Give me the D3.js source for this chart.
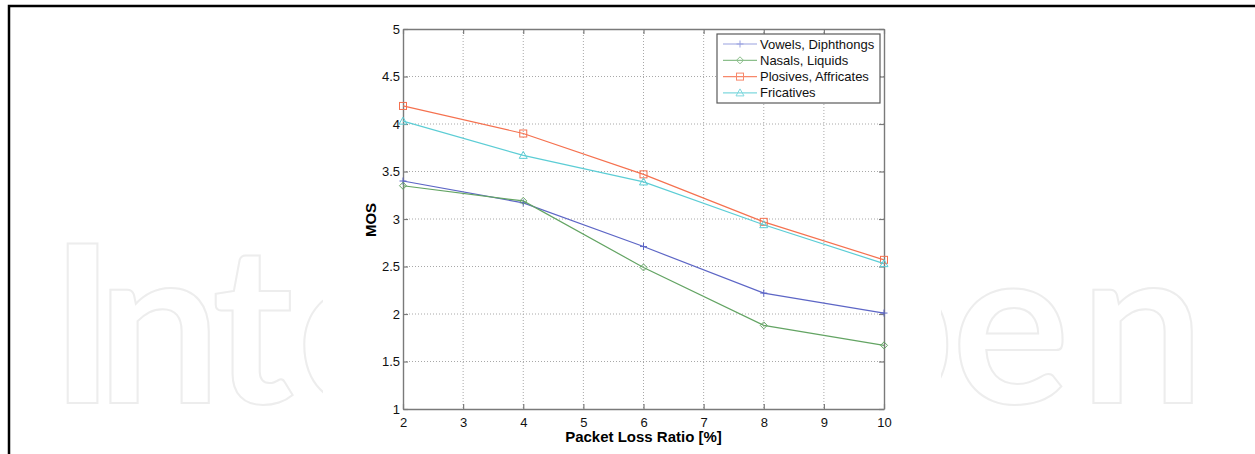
<!DOCTYPE html>
<html>
<head>
<meta charset="utf-8">
<script src="https://cdn.jsdelivr.net/npm/d3@7"></script>
<style>
  body { margin: 0; background: #fff; }
  svg { display: block; font-family: Arial, "Liberation Sans", sans-serif; }
</style>
</head>
<body>
<svg id="chart" width="1255" height="454"></svg>
<script>
// packet loss ratio values on x
const lossRatio = [2, 4, 6, 8, 10];
const xTicks = [2, 3, 4, 5, 6, 7, 8, 9, 10];
const yTicks = [1, 1.5, 2, 2.5, 3, 3.5, 4, 4.5, 5];

// MOS
const vowels = [3.40, 3.17, 2.71, 2.22, 2.01];
const nasals = [3.35, 3.19, 2.49, 1.88, 1.67];
const plosives = [4.19, 3.90, 3.47, 2.97, 2.57];
const fricatives = [4.03, 3.67, 3.39, 2.94, 2.53];

const seriesNames = ["Vowels, Diphthongs", "Nasals, Liquids", "Plosives, Affricates", "Fricatives"];

const series = [
  { name: seriesNames[0], values: vowels, color: "#5d66c6", legend: "#9aa2e0", marker: "plus" },
  { name: seriesNames[1], values: nasals, color: "#63a463", legend: "#8cbf8c", marker: "diamond" },
  { name: seriesNames[2], values: plosives, color: "#f5714f", legend: "#f7886b", marker: "square" },
  { name: seriesNames[3], values: fricatives, color: "#5ccdd5", legend: "#7fd8de", marker: "triangle" }
];

const svg = d3.select("#chart");

// faint watermark behind the figure (only the letters that show past the figure)
const markLetters = ["I", "n", "t", "e", "p", "e", "n"];
const markX = [50, 97, 212, 297, 830, 952, 1080];
svg.append("g")
  .selectAll("text")
  .data(markLetters)
  .enter().append("text")
  .attr("x", (d, i) => markX[i])
  .attr("y", 403)
  .style("font-family", "Lato, 'Open Sans', sans-serif")
  .style("font-weight", "bold")
  .style("font-size", "220px")
  .style("fill", "none")
  .style("stroke", "#ededed")
  .style("stroke-width", 2)
  .text(d => d);

// white figure background covers the middle of the watermark
svg.append("rect")
  .attr("x", 323).attr("y", 12)
  .attr("width", 618).attr("height", 442)
  .style("fill", "#fff");

// page frame (top and left)
svg.append("path")
  .attr("d", "M9,454 V6 H1255")
  .style("fill", "none")
  .style("stroke", "#000")
  .style("stroke-width", 2.5);

// dimensions of the plot box
const plotLeft = 403, plotRight = 884, plotTop = 29, plotBottom = 409;

const x = d3.scaleLinear().domain([2, 10]).range([plotLeft, plotRight]);
const y = d3.scaleLinear().domain([1, 5]).range([plotBottom, plotTop]);

// grid
const grid = svg.append("g");
grid.selectAll(".gx")
  .data(xTicks.slice(1, -1))
  .enter().append("line")
  .attr("x1", d => x(d)).attr("x2", d => x(d))
  .attr("y1", plotTop).attr("y2", plotBottom)
  .style("stroke", "#a8a8a8")
  .style("stroke-dasharray", "1,2");
grid.selectAll(".gy")
  .data(yTicks.slice(1, -1))
  .enter().append("line")
  .attr("x1", plotLeft).attr("x2", plotRight)
  .attr("y1", d => y(d)).attr("y2", d => y(d))
  .style("stroke", "#a8a8a8")
  .style("stroke-dasharray", "1,2");

// axes, ticks pointing inward, on all four sides
const axisColor = "#7a7a7a";
const fmt = d => String(d);
const gxB = svg.append("g").attr("transform", `translate(0,${plotBottom})`)
  .call(d3.axisBottom(x).tickValues(xTicks).tickFormat(fmt).tickSizeInner(-5).tickSizeOuter(0).tickPadding(8));
const gxT = svg.append("g").attr("transform", `translate(0,${plotTop})`)
  .call(d3.axisTop(x).tickValues(xTicks).tickSizeInner(-5).tickSizeOuter(0).tickFormat(""));
const gyL = svg.append("g").attr("transform", `translate(${plotLeft},0)`)
  .call(d3.axisLeft(y).tickValues(yTicks).tickFormat(fmt).tickSizeInner(-5).tickSizeOuter(0).tickPadding(8));
const gyR = svg.append("g").attr("transform", `translate(${plotRight},0)`)
  .call(d3.axisRight(y).tickValues(yTicks).tickSizeInner(-5).tickSizeOuter(0).tickFormat(""));

[gxB, gxT, gyL, gyR].forEach(g => {
  g.select(".domain").style("stroke", axisColor).style("stroke-width", 1.4);
  g.selectAll(".tick line").style("stroke", axisColor).style("stroke-width", 1.2);
  g.selectAll(".tick text")
    .style("font-family", "Arial, 'Liberation Sans', sans-serif")
    .style("font-size", "13px")
    .style("fill", "#111");
});
gyL.selectAll(".tick text").attr("x", -3);
gxB.selectAll(".tick text").attr("y", 9);

// axis titles
svg.append("text")
  .attr("x", (plotLeft + plotRight) / 2)
  .attr("y", 442)
  .attr("text-anchor", "middle")
  .style("font-size", "15px")
  .style("font-weight", "bold")
  .text("Packet Loss Ratio [%]");

svg.append("text")
  .attr("transform", "translate(375.5,220) rotate(-90)")
  .attr("text-anchor", "middle")
  .style("font-size", "15px")
  .style("font-weight", "bold")
  .text("MOS");

// marker shapes
function drawMarker(g, type, cx, cy, color) {
  const s = 3.5;
  if (type == "plus") {
    g.append("path")
      .attr("d", `M${cx - s},${cy} H${cx + s} M${cx},${cy - s} V${cy + s}`)
      .style("stroke", color).style("fill", "none");
  } else if (type == "diamond") {
    g.append("path")
      .attr("d", `M${cx},${cy - s} L${cx + s},${cy} L${cx},${cy + s} L${cx - s},${cy} Z`)
      .style("stroke", color).style("fill", "none");
  } else if (type == "square") {
    g.append("rect")
      .attr("x", cx - s).attr("y", cy - s)
      .attr("width", 2 * s).attr("height", 2 * s)
      .style("stroke", color).style("fill", "none");
  } else if (type == "triangle") {
    g.append("path")
      .attr("d", `M${cx},${cy - s - 0.5} L${cx + s + 0.5},${cy + s - 0.5} L${cx - s - 0.5},${cy + s - 0.5} Z`)
      .style("stroke", color).style("fill", "none");
  }
}

// lines
const valueLine = d3.line()
  .x((d, i) => x(lossRatio[i]))
  .y(d => y(d));

series.forEach(s => {
  const g = svg.append("g");
  g.append("path")
    .attr("d", valueLine(s.values))
    .style("stroke", s.color)
    .style("stroke-width", 1.2)
    .style("fill", "none");
  s.values.forEach((v, i) => drawMarker(g, s.marker, x(lossRatio[i]), y(v), s.color));
});

// legend
const legend = svg.append("g");
legend.append("rect")
  .attr("x", 717).attr("y", 34)
  .attr("width", 163).attr("height", 69)
  .style("fill", "#fff")
  .style("stroke", "#5a5a5a")
  .style("stroke-width", 1.2);

series.forEach((s, i) => {
  const ly = 44 + i * 16.3;
  legend.append("line")
    .attr("x1", 723).attr("x2", 757)
    .attr("y1", ly).attr("y2", ly)
    .style("stroke", s.legend)
    .style("stroke-width", 1.2);
  drawMarker(legend, s.marker, 740, ly, s.legend);
  legend.append("text")
    .attr("x", 760)
    .attr("y", ly + 4.5)
    .style("font-size", "13px")
    .style("fill", "#111")
    .text(s.name);
});
</script>
</body>
</html>
